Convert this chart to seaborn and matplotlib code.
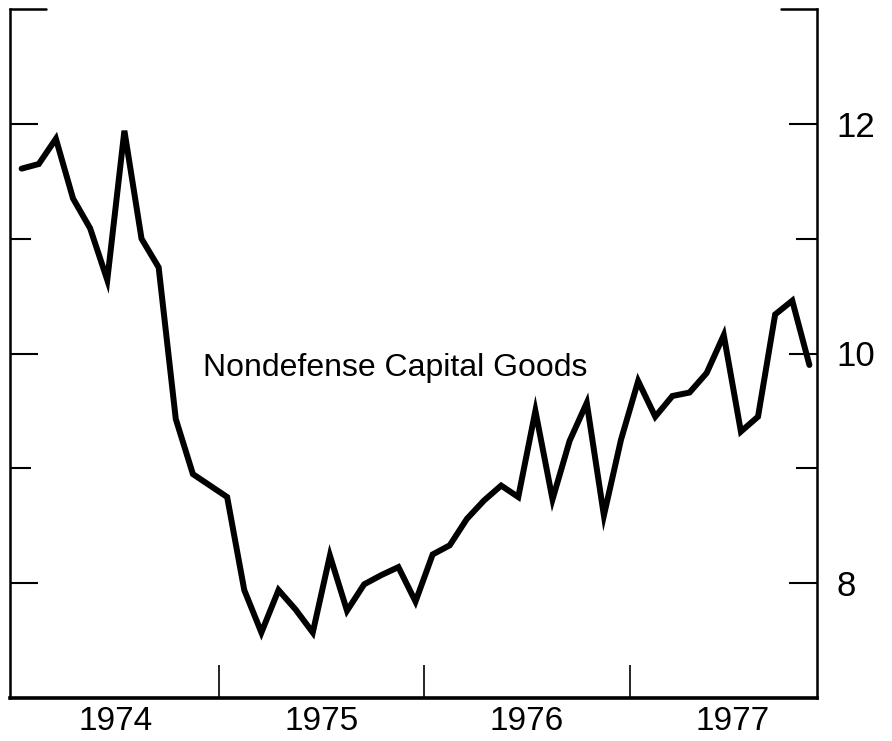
import numpy as np
import pandas as pd
import seaborn as sns
import matplotlib.pyplot as plt
from matplotlib.ticker import FixedLocator, NullFormatter

# Data: monthly, Jan 1974 - Nov 1977 (billions of dollars)
values = [11.61, 11.65, 11.87, 11.35, 11.09, 10.64, 11.94, 11.00, 10.75, 9.43, 8.95, 8.85,
          8.75, 7.94, 7.57, 7.94, 7.77, 7.57, 8.24, 7.76, 7.99, 8.07, 8.14, 7.84,
          8.25, 8.33, 8.56, 8.72, 8.85, 8.75, 9.50, 8.73, 9.24, 9.57, 8.59, 9.25,
          9.76, 9.45, 9.63, 9.66, 9.83, 10.16, 9.32, 9.45, 10.34, 10.46, 9.90]
start_year = 1974
year_labels = ["1974", "1975", "1976", "1977"]
y_major = [8, 10, 12]
y_minor = [9, 11]
label = "Nondefense Capital Goods"

months = np.arange(len(values))
df = pd.DataFrame({"date": start_year + (months + 0.5) / 12, "value": values})

sns.set_theme(style="ticks", rc={"text.color": "black", "xtick.color": "black",
                                 "ytick.color": "black", "axes.edgecolor": "black"})
plt.rcParams["font.family"] = ["Liberation Sans", "DejaVu Sans"]

fig = plt.figure(figsize=(8.92, 7.41), dpi=100)
ax = fig.add_axes([10 / 892, 1 - 698 / 741, 807 / 892, 689 / 741])

sns.lineplot(data=df, x="date", y="value", ax=ax, color="black", linewidth=4.3,
             solid_joinstyle="miter")

ax.set_xlim(1973.985, 1977.912)
ax.set_ylim(7, 13)
ax.set_xlabel("")
ax.set_ylabel("")

# x: labels at mid-year, tick marks at year boundaries
years = [int(y) for y in year_labels]
ax.xaxis.set_major_locator(FixedLocator([y + 0.5 for y in years]))
ax.set_xticklabels(year_labels)
ax.xaxis.set_minor_locator(FixedLocator(years[1:]))
ax.tick_params(axis="x", which="major", length=0, pad=6, labelsize=24)
ax.tick_params(axis="x", which="minor", direction="in", length=24, width=1.2)

# y: right-hand labels, inward ticks on both sides
ax.yaxis.set_major_locator(FixedLocator(y_major))
ax.yaxis.set_minor_locator(FixedLocator(y_minor))
ax.yaxis.set_minor_formatter(NullFormatter())
ax.tick_params(axis="y", which="both", direction="in", left=True, right=True,
               labelleft=False, labelright=True, width=1.5)
ax.tick_params(axis="y", which="major", length=20, pad=14, labelsize=25)
ax.tick_params(axis="y", which="minor", length=15)

for side in ["left", "right"]:
    ax.spines[side].set_linewidth(1.8)
ax.spines["bottom"].set_linewidth(2.6)
ax.spines["top"].set_visible(False)

# short corner pieces of the frame at the top
ax.axhline(13, xmin=0, xmax=0.045, color="black", linewidth=1.8, clip_on=False)
ax.axhline(13, xmin=0.955, xmax=1, color="black", linewidth=1.8, clip_on=False)

ax.text(1974.925, 9.87, label, fontsize=23, va="center", ha="left")

fig.savefig("out.png", dpi=100)
